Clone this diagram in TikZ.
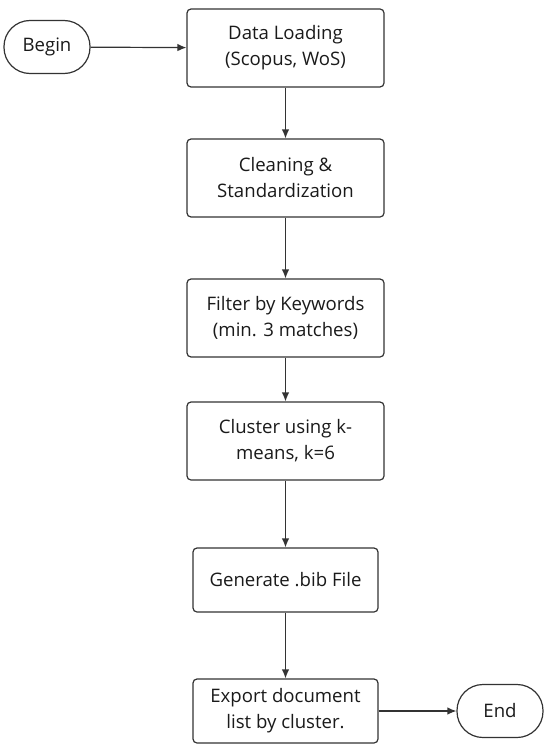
\documentclass[tikz,border=0pt]{standalone}
\usepackage{fontspec}
\setmainfont{Open Sans}
\usepackage{xcolor}
\usetikzlibrary{positioning,calc,arrows.meta}
\definecolor{fcline}{HTML}{333333}
\definecolor{fctext}{HTML}{1A1A1A}

\begin{document}
\begin{tikzpicture}[x=1pt,y=1pt,>={Latex[length=9pt,width=7.5pt]},font=\fontsize{18.6}{26}\selectfont,
        blk/.style={draw=fcline,line width=1.2pt,rounded corners=4pt,fill=white,text=fctext,align=center,inner sep=0pt},
        proc/.style={blk,minimum width=197pt,minimum height=78pt},
        procs/.style={blk,minimum width=185pt,minimum height=64pt},
        term/.style={blk,rounded corners=26pt,minimum width=86pt,minimum height=53pt},
        conn/.style={->,draw=fcline,line width=1.2pt}]
        \useasboundingbox (0,0) rectangle (550,-752);
        \node[term] (beg) at (47,-47) {Begin};
        \node[proc] (load) at (285.5,-48) {Data Loading\\(Scopus, WoS)};
        \node[proc] (clean) at (285.5,-178) {Cleaning \&\\Standardization};
        \node[proc] (filt) at (285.5,-318) {Filter by Keywords\\(min. 3 matches)};
        \node[proc] (clus) at (285.5,-441) {Cluster using k-\\means, k=6};
        \node[procs] (bib) at (285.5,-580) {Generate .bib File};
        \node[procs] (exp) at (285.5,-711) {Export document\\list by cluster.};
        \node[term] (end) at (500,-711) {End};
        \draw[conn](beg)--(load);\draw[conn](load)--(clean);\draw[conn](clean)--(filt);
        \draw[conn](filt)--(clus);\draw[conn](clus)--(bib);\draw[conn](bib)--(exp);
        \draw[conn](exp)--(end);
      \end{tikzpicture}
\end{document}
